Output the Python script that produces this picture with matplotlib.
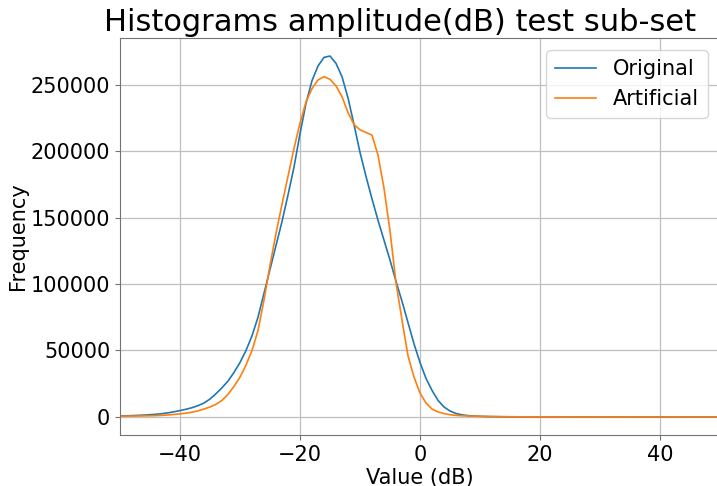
import numpy as np
import matplotlib
matplotlib.use("Agg")
import matplotlib.pyplot as plt

# bin centres (dB) and counts per bin
bins_db = np.arange(-50, 51, 1)

original = [
    800, 900, 1000, 1200, 1400, 1700, 2000, 2500, 3100, 3900,          # -50 .. -41
    4800, 5800, 7000, 8500, 10500, 13500, 17500, 22000, 27000, 33500,  # -40 .. -31
    41000, 50000, 61000, 75000, 93000, 111000, 129000, 147000, 167000, 188000,  # -30 .. -21
    213000, 236000, 253000, 264000, 270500, 271500, 266000, 256000, 240000, 220000,  # -20 .. -11
    199000, 181000, 164000, 148000, 133000, 118000, 102000, 87000, 71000, 55000,  # -10 .. -1
    41000, 29000, 20000, 12500, 7500, 4500, 2600, 1600, 1000, 700,     # 0 .. 9
    500, 350, 250, 200, 150, 120, 100, 90, 80, 70,                     # 10 .. 19
    60, 60, 50, 50, 50, 40, 40, 40, 40, 30,                            # 20 .. 29
    30, 30, 30, 30, 30, 20, 20, 20, 20, 20,                            # 30 .. 39
    20, 20, 20, 20, 10, 10, 10, 10, 10, 10, 10,                        # 40 .. 50
]

artificial = [
    600, 650, 700, 750, 800, 900, 1000, 1200, 1500, 1900,              # -50 .. -41
    2300, 2900, 3600, 4600, 6000, 7500, 9500, 12500, 17000, 23000,     # -40 .. -31
    30000, 39000, 50000, 65000, 88000, 114000, 138000, 160000, 181000, 202000,  # -30 .. -21
    221000, 237000, 247000, 253500, 256000, 254000, 249000, 241000, 229000, 220000,  # -20 .. -11
    216000, 214000, 212000, 197000, 172000, 140000, 101000, 73000, 46000, 30000,  # -10 .. -1
    18000, 10500, 6000, 3800, 2500, 1700, 1200, 900, 750, 600,         # 0 .. 9
    500, 400, 300, 250, 200, 150, 120, 100, 90, 80,                    # 10 .. 19
    70, 60, 60, 50, 50, 50, 40, 40, 40, 40,                            # 20 .. 29
    30, 30, 30, 30, 30, 20, 20, 20, 20, 20,                            # 30 .. 39
    20, 20, 20, 20, 10, 10, 10, 10, 10, 10, 10,                        # 40 .. 50
]

fontsize = 15
plt.rcParams.update({
    "font.family": "DejaVu Sans",
    "xtick.labelsize": fontsize,
    "ytick.labelsize": fontsize,
    "axes.labelsize": fontsize,
    "legend.fontsize": fontsize,
    "axes.edgecolor": "0.45",
    "xtick.color": "0.45",
    "ytick.color": "0.45",
    "xtick.labelcolor": "black",
    "ytick.labelcolor": "black",
})

fig = plt.figure(figsize=(7.17, 4.86), dpi=100)
ax = fig.add_axes([120 / 717, 51 / 486, 600 / 717, 397 / 486])

ax.plot(bins_db, original, color="tab:blue", linewidth=1.2, label="Original")
ax.plot(bins_db, artificial, color="tab:orange", linewidth=1.2, label="Artificial")

ax.set_xlim(-50, 50)
ax.set_xticks([-40, -20, 0, 20, 40])
ax.grid(True, color="0.75", linewidth=0.9)
ax.set_axisbelow(True)
ax.set_xlabel("Value (dB)", labelpad=2)
ax.set_ylabel("Frequency", labelpad=2)
ax.set_title("Histograms amplitude(dB) test sub-set", fontsize=22, x=0.467, pad=5)
ax.legend(loc="upper right", borderaxespad=0.6)

fig.savefig("out.png", dpi=100)
